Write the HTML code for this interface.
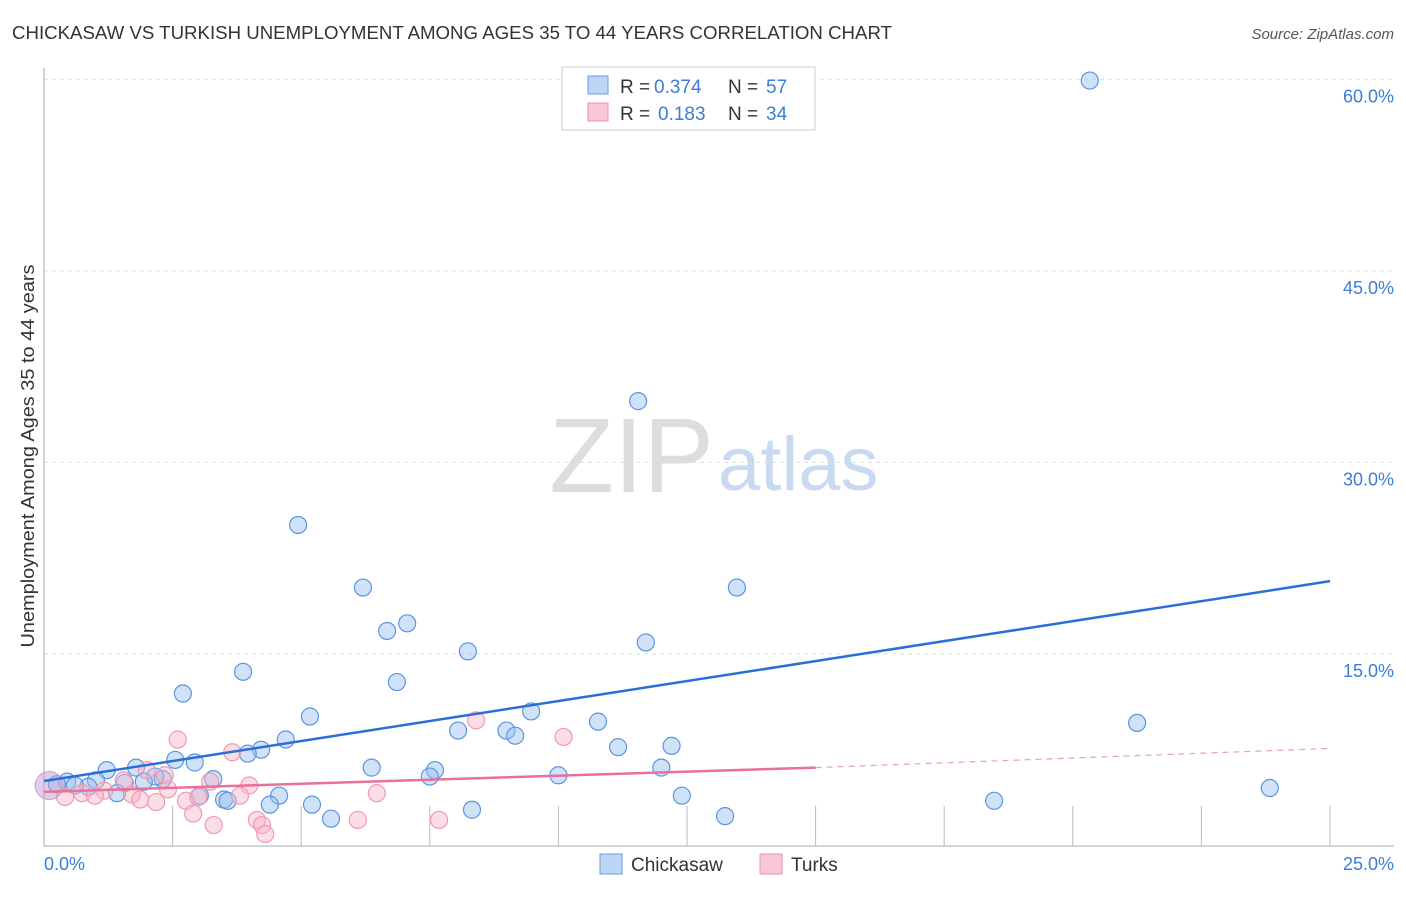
<!DOCTYPE html>
<html><head><meta charset="utf-8"><style>
body{margin:0;background:#fff;font-family:"Liberation Sans",sans-serif}
svg text{font-family:"Liberation Sans",sans-serif}
</style></head><body>
<svg width="1406" height="892">
<text x="12" y="39" font-size="18" fill="#333" textLength="880" lengthAdjust="spacingAndGlyphs">CHICKASAW VS TURKISH UNEMPLOYMENT AMONG AGES 35 TO 44 YEARS CORRELATION CHART</text>
<text x="1394" y="39" font-size="15" fill="#555" font-style="italic" text-anchor="end">Source: ZipAtlas.com</text>
<text x="714" y="492" font-size="106" fill="#ddd" text-anchor="end" font-family="Liberation Serif">ZIP</text>
<text x="718" y="490" font-size="76" fill="#c9d9f0">atlas</text>
<g id="grid"></g><g id="axes"></g><g id="marks"></g>
<text transform="translate(34,456) rotate(-90)" font-size="18" fill="#333" text-anchor="middle" textLength="383" lengthAdjust="spacingAndGlyphs">Unemployment Among Ages 35 to 44 years</text>
<text x="44" y="870" font-size="18" fill="#3b7dd8">0.0%</text>
<text x="1394" y="870" font-size="18" fill="#3b7dd8" text-anchor="end">25.0%</text>
<g>
<rect x="562" y="67" width="253" height="63" fill="#fff" stroke="#ccc"/>
<rect x="588" y="76" width="20" height="18" fill="#bcd4f5" stroke="#6a9ee0"/>
<rect x="588" y="103" width="20" height="18" fill="#f9c8d6" stroke="#ec90ab"/>
<text x="620" y="93" font-size="19" fill="#333">R =</text>
<text x="654" y="93" font-size="19" fill="#3b7dd8">0.374</text>
<text x="728" y="93" font-size="19" fill="#333">N =</text>
<text x="766" y="93" font-size="19" fill="#3b7dd8">57</text>
<text x="620" y="120" font-size="19" fill="#333">R =</text>
<text x="658" y="120" font-size="19" fill="#3b7dd8">0.183</text>
<text x="728" y="120" font-size="19" fill="#333">N =</text>
<text x="766" y="120" font-size="19" fill="#3b7dd8">34</text>
</g>
<g>
<rect x="600" y="854" width="22" height="20" fill="#bcd4f5" stroke="#6a9ee0"/>
<text x="631" y="871" font-size="19" fill="#333">Chickasaw</text>
<rect x="760" y="854" width="22" height="20" fill="#f9c8d6" stroke="#ec90ab"/>
<text x="791" y="871" font-size="19" fill="#333">Turks</text>
</g>
</svg>
<script>
const yTicks=[15,30,45,60];
const xTicks=[2.5,5,7.5,10,12.5,15,17.5,20,22.5,25];
const blueX=[20.33,11.55,4.94,13.47,6.2,7.06,6.67,11.7,8.24,3.87,6.86,2.7,21.25,9.47,5.17,10.77,8.05,8.99,9.16,4.7,11.16,12.2,4.22,3.96,2.93,2.55,1.79,1.22,6.37,12.0,7.6,7.5,10.0,3.29,2.31,2.16,1.94,1.01,1.57,0.45,0.25,0.86,23.83,1.42,4.57,3.03,12.4,18.47,3.5,3.57,4.39,5.21,8.32,5.58,13.24,0.6];
const blueY=[59.9,34.8,25.1,20.2,20.2,17.4,16.8,15.9,15.2,13.6,12.8,11.9,9.6,10.5,10.1,9.7,9.0,9.0,8.6,8.3,7.7,7.8,7.5,7.2,6.5,6.7,6.1,5.9,6.1,6.1,5.9,5.4,5.5,5.2,5.2,5.4,5.0,5.1,4.9,5.0,4.8,4.6,4.5,4.1,3.9,3.9,3.9,3.5,3.6,3.5,3.2,3.2,2.8,2.1,2.3,4.7];
const pinkX=[2.6,8.4,10.1,3.66,2.0,2.35,1.55,3.23,3.99,2.41,1.17,0.74,0.99,1.71,0.41,1.87,2.18,3.81,2.76,3.0,6.47,2.9,3.3,4.14,4.24,4.3,6.1,7.68];
const pinkY=[8.3,9.8,8.5,7.3,5.9,5.5,5.1,5.0,4.7,4.4,4.3,4.1,3.9,4.0,3.8,3.6,3.4,3.9,3.5,3.8,4.1,2.5,1.6,2.0,1.6,0.9,2.0,2.0];
const blueTrend=[5.05,20.7];
const pinkTrend=[4.2,6.1,7.6];
const X=v=>44+v*51.44, Y=v=>845.5-v*12.77;
const NS="http://www.w3.org/2000/svg";
function mk(t,a,p){const e=document.createElementNS(NS,t);for(const k in a)e.setAttribute(k,a[k]);document.getElementById(p).appendChild(e);return e;}
yTicks.forEach(v=>{
 const l=mk('line',{x1:44,x2:1394,y1:Y(v),y2:Y(v),stroke:'#ddd','stroke-dasharray':'4,4'},'grid');
 
 
 const t=mk('text',{x:1394,y:Y(v)+23,'font-size':18,fill:'#3b7dd8','text-anchor':'end'},'grid');
 t.textContent=v.toFixed(1)+'%';
 
 
});
const ya=mk('line',{x1:44,x2:44,y1:68,y2:846,stroke:'#aaa'},'axes');


const xa=mk('line',{x1:44,x2:1394,y1:846,y2:846,stroke:'#aaa'},'axes');


xTicks.forEach(v=>{
 const l=mk('line',{x1:X(v),x2:X(v),y1:806,y2:846,stroke:'#bbb'},'axes');
 
 
});
blueX.forEach((v,i)=>{
 const c=mk('circle',{cx:X(v),cy:Y(blueY[i]),r:8.5,fill:'rgba(150,190,240,0.45)',stroke:'#5b95e0','stroke-width':1.2},'marks');
 
 
});
pinkX.forEach((v,i)=>{
 const c=mk('circle',{cx:X(v),cy:Y(pinkY[i]),r:8.5,fill:'rgba(248,180,200,0.45)',stroke:'#ee9ab3','stroke-width':1.2},'marks');
 
 
});
const big1=mk('circle',{cx:X(0.1),cy:Y(4.7),r:14,fill:'rgba(190,160,210,0.5)',stroke:'#c8a0c8'},'marks');


const bl=mk('line',{x1:X(0),y1:Y(blueTrend[0]),x2:X(25),y2:Y(blueTrend[1]),stroke:'#2a6fd6','stroke-width':2.5},'marks');


const pl=mk('line',{x1:X(0),y1:Y(pinkTrend[0]),x2:X(15),y2:Y(pinkTrend[1]),stroke:'#e8709a','stroke-width':2.5},'marks');


const pd=mk('line',{x1:X(15),y1:Y(pinkTrend[1]),x2:X(25),y2:Y(pinkTrend[2]),stroke:'#e8a0b8','stroke-width':1.2,'stroke-dasharray':'6,5'},'marks');


</script>
</body></html>
